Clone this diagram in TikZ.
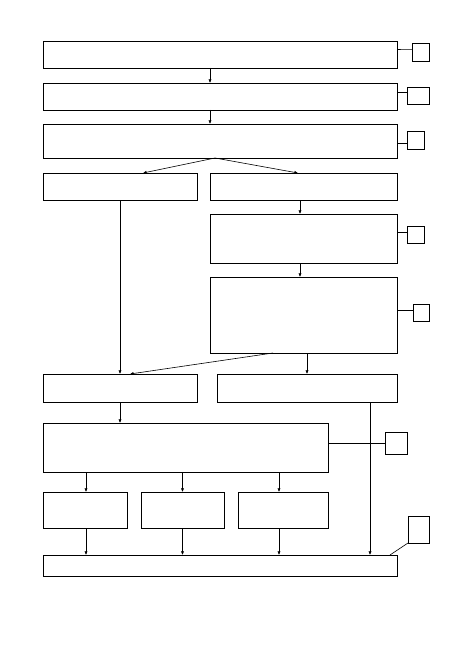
\documentclass[tikz,border=0pt]{standalone}
\usepackage{tikz}
\usetikzlibrary{arrows.meta,positioning,calc}
\tikzset{
  blk/.style={draw, line width=0.6pt, inner sep=0pt, outer sep=0pt},
  arr/.style={-{Latex[length=3.6pt,width=3.2pt]}, line width=0.6pt},
  lnk/.style={line width=0.6pt},
}

\begin{document}
\begin{tikzpicture}[x=1pt,y=-1pt]
    \useasboundingbox (0,0) rectangle (459,650);
    % main column
    \node[blk, minimum width=354pt, minimum height=27pt] (top) at (220,54.5) {};
    \node[blk, minimum width=354pt, minimum height=27pt] (second) at (220,96.5) {};
    \node[blk, minimum width=354pt, minimum height=34pt] (third) at (220,141) {};
    \draw[arr] ([xshift=167pt]top.south west) -- ([xshift=167pt]second.north west);
    \draw[arr] ([xshift=167pt]second.south west) -- ([xshift=167pt]third.north west);
    % split
    \node[blk, minimum width=154pt, minimum height=27pt] (left1) at (120,186.5) {};
    \node[blk, minimum width=187pt, minimum height=27pt] (right1) at (303.5,186.5) {};
    \draw[arr] ([xshift=172pt]third.south west) -- ([xshift=100pt]left1.north west);
    \draw[arr] ([xshift=172pt]third.south west) -- ([xshift=88pt]right1.north west);
    % right branch
    \node[blk, minimum width=187pt, minimum height=49pt] (right2) at (303.5,238.5) {};
    \node[blk, minimum width=187pt, minimum height=76pt] (right3) at (303.5,315) {};
    \draw[arr] ([xshift=90pt]right1.south west) -- ([xshift=90pt]right2.north west);
    \draw[arr] ([xshift=90pt]right2.south west) -- ([xshift=90pt]right3.north west);
    % merge
    \node[blk, minimum width=154pt, minimum height=28pt] (left2) at (120,388) {};
    \node[blk, minimum width=180pt, minimum height=28pt] (right4) at (307,388) {};
    \draw[arr] (left1.south) -- (left2.north);
    \draw[arr] ([xshift=63pt]right3.south west) -- ([xshift=10pt]left2.north);
    \draw[arr] ([xshift=97pt]right3.south west) -- (right4.north);
    % lower part
    \node[blk, minimum width=285pt, minimum height=49pt] (wide) at (185.5,447.5) {};
    \node[blk, minimum width=84pt, minimum height=36pt] (partA) at (85,510) {};
    \node[blk, minimum width=83pt, minimum height=36pt] (partB) at (182.5,510) {};
    \node[blk, minimum width=90pt, minimum height=36pt] (partC) at (283,510) {};
    \node[blk, minimum width=354pt, minimum height=21pt] (bottom) at (220,565.5) {};
    \draw[arr] (left2.south) -- (left2.south |- wide.north);
    \draw[arr] ([xshift=1pt]partA.north |- wide.south) -- ([xshift=1pt]partA.north);
    \draw[arr] (partB.north |- wide.south) -- (partB.north);
    \draw[arr] ([xshift=-4pt]partC.north |- wide.south) -- ([xshift=-4pt]partC.north);
    \draw[arr] ([xshift=1pt]partA.south) -- ([xshift=1pt]partA.south |- bottom.north);
    \draw[arr] (partB.south) -- (partB.south |- bottom.north);
    \draw[arr] ([xshift=-4pt]partC.south) -- ([xshift=-4pt]partC.south |- bottom.north);
    \draw[arr] ([xshift=153pt]right4.south west) -- ([xshift=153pt]right4.south west |- bottom.north);
    % side markers
    \node[blk, minimum width=17pt, minimum height=18pt] (mark1) at (420.5,52) {};
    \node[blk, minimum width=22pt, minimum height=17pt] (mark2) at (418,95.5) {};
    \node[blk, minimum width=17pt, minimum height=18pt] (mark3) at (415.5,140) {};
    \node[blk, minimum width=17pt, minimum height=17pt] (mark4) at (415.5,234.5) {};
    \node[blk, minimum width=16pt, minimum height=17pt] (mark5) at (421,312.5) {};
    \node[blk, minimum width=22pt, minimum height=22pt] (mark6) at (396,443) {};
    \node[blk, minimum width=21pt, minimum height=27pt] (mark7) at (418.5,529.5) {};
    \draw[lnk] ([yshift=5pt]top.east) -- ([yshift=2.7pt]mark1.west);
    \draw[lnk] ([yshift=3.8pt]second.east) -- ([yshift=2.8pt]mark2.west);
    \draw[lnk] ([yshift=-2pt]third.east) -- ([yshift=-3pt]mark3.west);
    \draw[lnk] ([yshift=6.5pt]right2.east) -- ([yshift=2.5pt]mark4.west);
    \draw[lnk] ([yshift=5pt]right3.east) -- ([yshift=2.5pt]mark5.west);
    \draw[lnk] ([yshift=4.5pt]wide.east) -- (mark6.west);
    \draw[lnk] ([xshift=-7pt]bottom.north east) -- (mark7.south west);
  \end{tikzpicture}
\end{document}
